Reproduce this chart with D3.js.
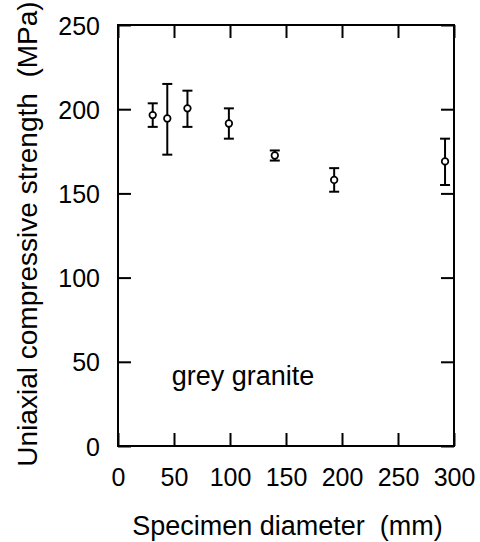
<!DOCTYPE html>
<html>
<head>
<meta charset="utf-8">
<script src="https://cdn.jsdelivr.net/npm/d3@7"></script>
<style>
  html, body { margin: 0; padding: 0; background: #fff; }
  svg text { font-family: "Liberation Sans", Arial, Helvetica, sans-serif; fill: #000; white-space: pre; }
</style>
</head>
<body>
<svg id="chart" width="480" height="542"></svg>
<script>
// Specimen diameter (mm) for each test group
const diameters = [31, 44, 62, 99, 140, 193, 292];
// Mean uniaxial compressive strength (MPa)
const strengthMean = [196.5, 194.5, 200.5, 191.5, 172.5, 158, 169];
// Upper and lower ends of the scatter bars (MPa)
const strengthHigh = [203.5, 215, 211, 200.5, 175.5, 165, 182.5];
const strengthLow = [189.5, 173, 189.5, 182.5, 169.5, 151, 155];

const xTicks = [0, 50, 100, 150, 200, 250, 300];
const yTicks = [0, 50, 100, 150, 200, 250];

const svg = d3.select("#chart");
const plotLeft = 118, plotRight = 454, plotTop = 25, plotBottom = 446;

const x = d3.scaleLinear().domain([0, 300]).range([plotLeft, plotRight]);
const y = d3.scaleLinear().domain([0, 250]).range([plotBottom, plotTop]);

const tickLen = 13;

// Axes with inward ticks on all four sides
const gBottom = svg.append("g").attr("transform", `translate(0,${plotBottom})`)
  .call(d3.axisBottom(x).tickValues(xTicks).tickSize(-tickLen).tickPadding(22).tickFormat(d3.format("d")));
const gLeft = svg.append("g").attr("transform", `translate(${plotLeft},0)`)
  .call(d3.axisLeft(y).tickValues(yTicks).tickSize(-tickLen).tickPadding(18).tickFormat(d3.format("d")));
const gTop = svg.append("g").attr("transform", `translate(0,${plotTop})`)
  .call(d3.axisTop(x).tickValues(xTicks).tickSize(-tickLen).tickFormat(""));
const gRight = svg.append("g").attr("transform", `translate(${plotRight},0)`)
  .call(d3.axisRight(y).tickValues(yTicks).tickSize(-tickLen).tickFormat(""));

[gBottom, gLeft, gTop, gRight].forEach(g => {
  g.select(".domain").remove();
  g.selectAll(".tick line").attr("stroke", "#000").attr("stroke-width", 2);
  g.selectAll(".tick text").attr("font-size", 25).attr("font-family", null).attr("fill", "#000");
});
gLeft.selectAll(".tick text").attr("dy", "0.36em");

// Plot frame
svg.append("rect")
  .attr("x", plotLeft).attr("y", plotTop)
  .attr("width", plotRight - plotLeft).attr("height", plotBottom - plotTop)
  .attr("fill", "none").attr("stroke", "#000").attr("stroke-width", 2);

// Error bars
const capHalf = 5;
const pts = diameters.map((d, i) => ({ d, m: strengthMean[i], hi: strengthHigh[i], lo: strengthLow[i] }));
const eb = svg.append("g").attr("stroke", "#000").attr("stroke-width", 2).attr("fill", "none");
eb.selectAll("line.v").data(pts).join("line").attr("class", "v")
  .attr("x1", p => x(p.d)).attr("x2", p => x(p.d))
  .attr("y1", p => y(p.hi)).attr("y2", p => y(p.lo));
eb.selectAll("line.hi").data(pts).join("line").attr("class", "hi")
  .attr("x1", p => x(p.d) - capHalf).attr("x2", p => x(p.d) + capHalf)
  .attr("y1", p => y(p.hi)).attr("y2", p => y(p.hi));
eb.selectAll("line.lo").data(pts).join("line").attr("class", "lo")
  .attr("x1", p => x(p.d) - capHalf).attr("x2", p => x(p.d) + capHalf)
  .attr("y1", p => y(p.lo)).attr("y2", p => y(p.lo));

// Mean markers: open circles
svg.append("g").selectAll("circle").data(pts).join("circle")
  .attr("cx", p => x(p.d)).attr("cy", p => y(p.m)).attr("r", 3.3)
  .attr("fill", "#fff").attr("stroke", "#000").attr("stroke-width", 1.7);

// Rock type annotation
svg.append("text")
  .attr("x", x(48)).attr("y", y(36))
  .attr("font-size", 27)
  .text("grey granite");

// Axis titles
svg.append("text")
  .attr("x", 287.5).attr("y", 535)
  .attr("text-anchor", "middle").attr("font-size", 27)
  .text("Specimen diameter  (mm)");

svg.append("text")
  .attr("transform", "translate(37,234) rotate(-90)")
  .attr("text-anchor", "middle").attr("font-size", 28)
  .text("Uniaxial compressive strength  (MPa)");
</script>
</body>
</html>
